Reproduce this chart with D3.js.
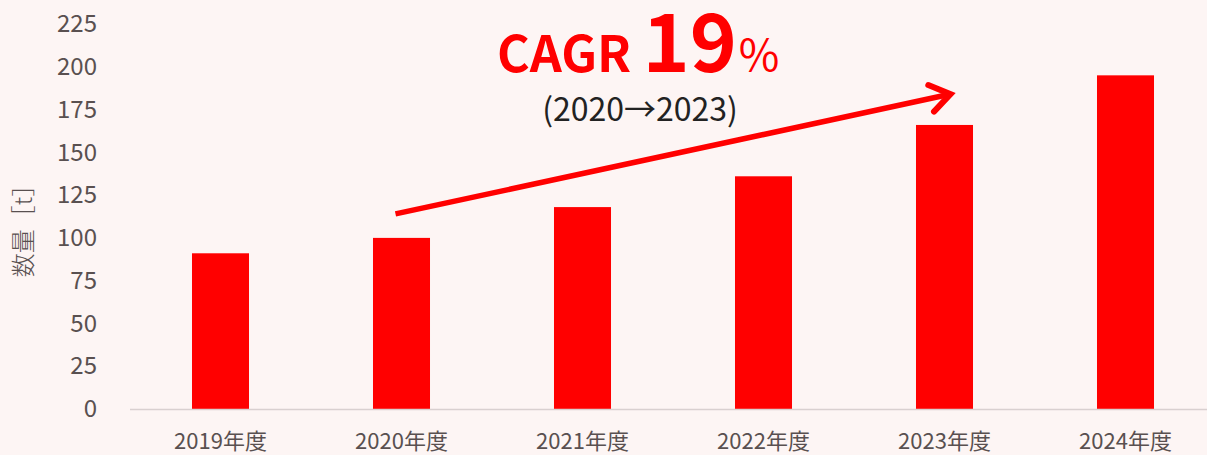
<!DOCTYPE html>
<html><head><meta charset="utf-8">
<script src="https://cdn.jsdelivr.net/npm/d3@7"></script>
<style>
html,body{margin:0;padding:0;background:#fdf5f4;}
svg{display:block;}
</style></head>
<body>
<svg id="chart" width="1207" height="455"></svg>
<script>
const categories = ["2019年度","2020年度","2021年度","2022年度","2023年度","2024年度"];
const values = [91, 100, 118, 136, 166, 195];
const yTicks = [0,25,50,75,100,125,150,175,200,225];
const yTitle = "数量［t］";
const cagrLabel = "CAGR";
const cagrValue = "19";
const cagrUnit = "％";
const cagrPeriod = "(2020→2023)";
const arrowFrom = ["2020年度", 114];
const arrowTo = ["2023年度", 184];

const W = 1207, H = 455;
const svg = d3.select("#chart");
svg.append("rect").attr("width", W).attr("height", H).attr("fill", "#fdf5f4");

const x = d3.scaleBand().domain(categories).range([130, 1216]).paddingInner(0.685).paddingOuter(0.3425);
const y = d3.scaleLinear().domain([0, 225]).range([409, 24]);
const font = "'Noto Sans CJK JP','Noto Sans',sans-serif";
const grey = "#595050";

// bars
svg.append("g").selectAll("rect").data(values).join("rect")
  .attr("x", (d,i) => x(categories[i]))
  .attr("y", d => y(d))
  .attr("width", x.bandwidth())
  .attr("height", d => y(0) - y(d))
  .attr("fill", "#ff0000");

// x axis
const xAxis = svg.append("g").attr("transform", `translate(0,${y(0)})`)
  .call(d3.axisBottom(x).tickSize(0).tickPadding(24));
xAxis.select(".domain").attr("stroke", "#d9d0d0").attr("stroke-width", 1.3).attr("d", "M130,0.5H1207");
xAxis.selectAll("text").attr("font-family", font).attr("font-size", 22).attr("fill", grey);

// y axis
const yAxis = svg.append("g").attr("transform", "translate(97,0)")
  .call(d3.axisLeft(y).tickValues(yTicks).tickSize(0).tickPadding(0));
yAxis.select(".domain").remove();
yAxis.selectAll("text").attr("font-family", font).attr("font-size", 24).attr("fill", grey);

// y title
svg.append("text").attr("transform", `translate(32,225) rotate(-90)`)
  .attr("text-anchor", "middle").attr("font-family", font).attr("font-size", 24)
  .attr("font-weight", 300)
  .attr("fill", grey).text(yTitle);

// arrow
const cx = c => x(c) + x.bandwidth()/2;
const x1 = cx(arrowFrom[0]) - 6, y1 = y(arrowFrom[1]);
const x2 = cx(arrowTo[0]) + 6, y2 = y(arrowTo[1]);
const ang = Math.atan2(y2 - y1, x2 - x1);
const hl = 24, ha = 0.6;
svg.append("line").attr("x1", x1).attr("y1", y1).attr("x2", x2 - 3*Math.cos(ang)).attr("y2", y2 - 3*Math.sin(ang))
  .attr("stroke", "#ff0000").attr("stroke-width", 5.5);
svg.append("path")
  .attr("d", `M${x2 - hl*Math.cos(ang-ha)},${y2 - hl*Math.sin(ang-ha)}L${x2},${y2}L${x2 - hl*Math.cos(ang+ha)},${y2 - hl*Math.sin(ang+ha)}`)
  .attr("fill", "none").attr("stroke", "#ff0000").attr("stroke-width", 6)
  .attr("stroke-linecap", "round").attr("stroke-linejoin", "miter");

// CAGR text
const t = svg.append("text").attr("x", 639).attr("y", 72).attr("text-anchor", "middle")
  .attr("font-family", font).attr("font-weight", "bold").attr("fill", "#ff0000");
t.append("tspan").attr("font-size", 50).text(cagrLabel + " ");
t.append("tspan").attr("font-size", 80).text(cagrValue);
t.append("tspan").attr("font-size", 44).attr("font-weight", "normal").text(cagrUnit);

svg.append("text").attr("x", 640).attr("y", 121).attr("text-anchor", "middle")
  .attr("font-family", font).attr("font-size", 32).attr("fill", "#222")
  .text(cagrPeriod);
</script>
</body></html>
